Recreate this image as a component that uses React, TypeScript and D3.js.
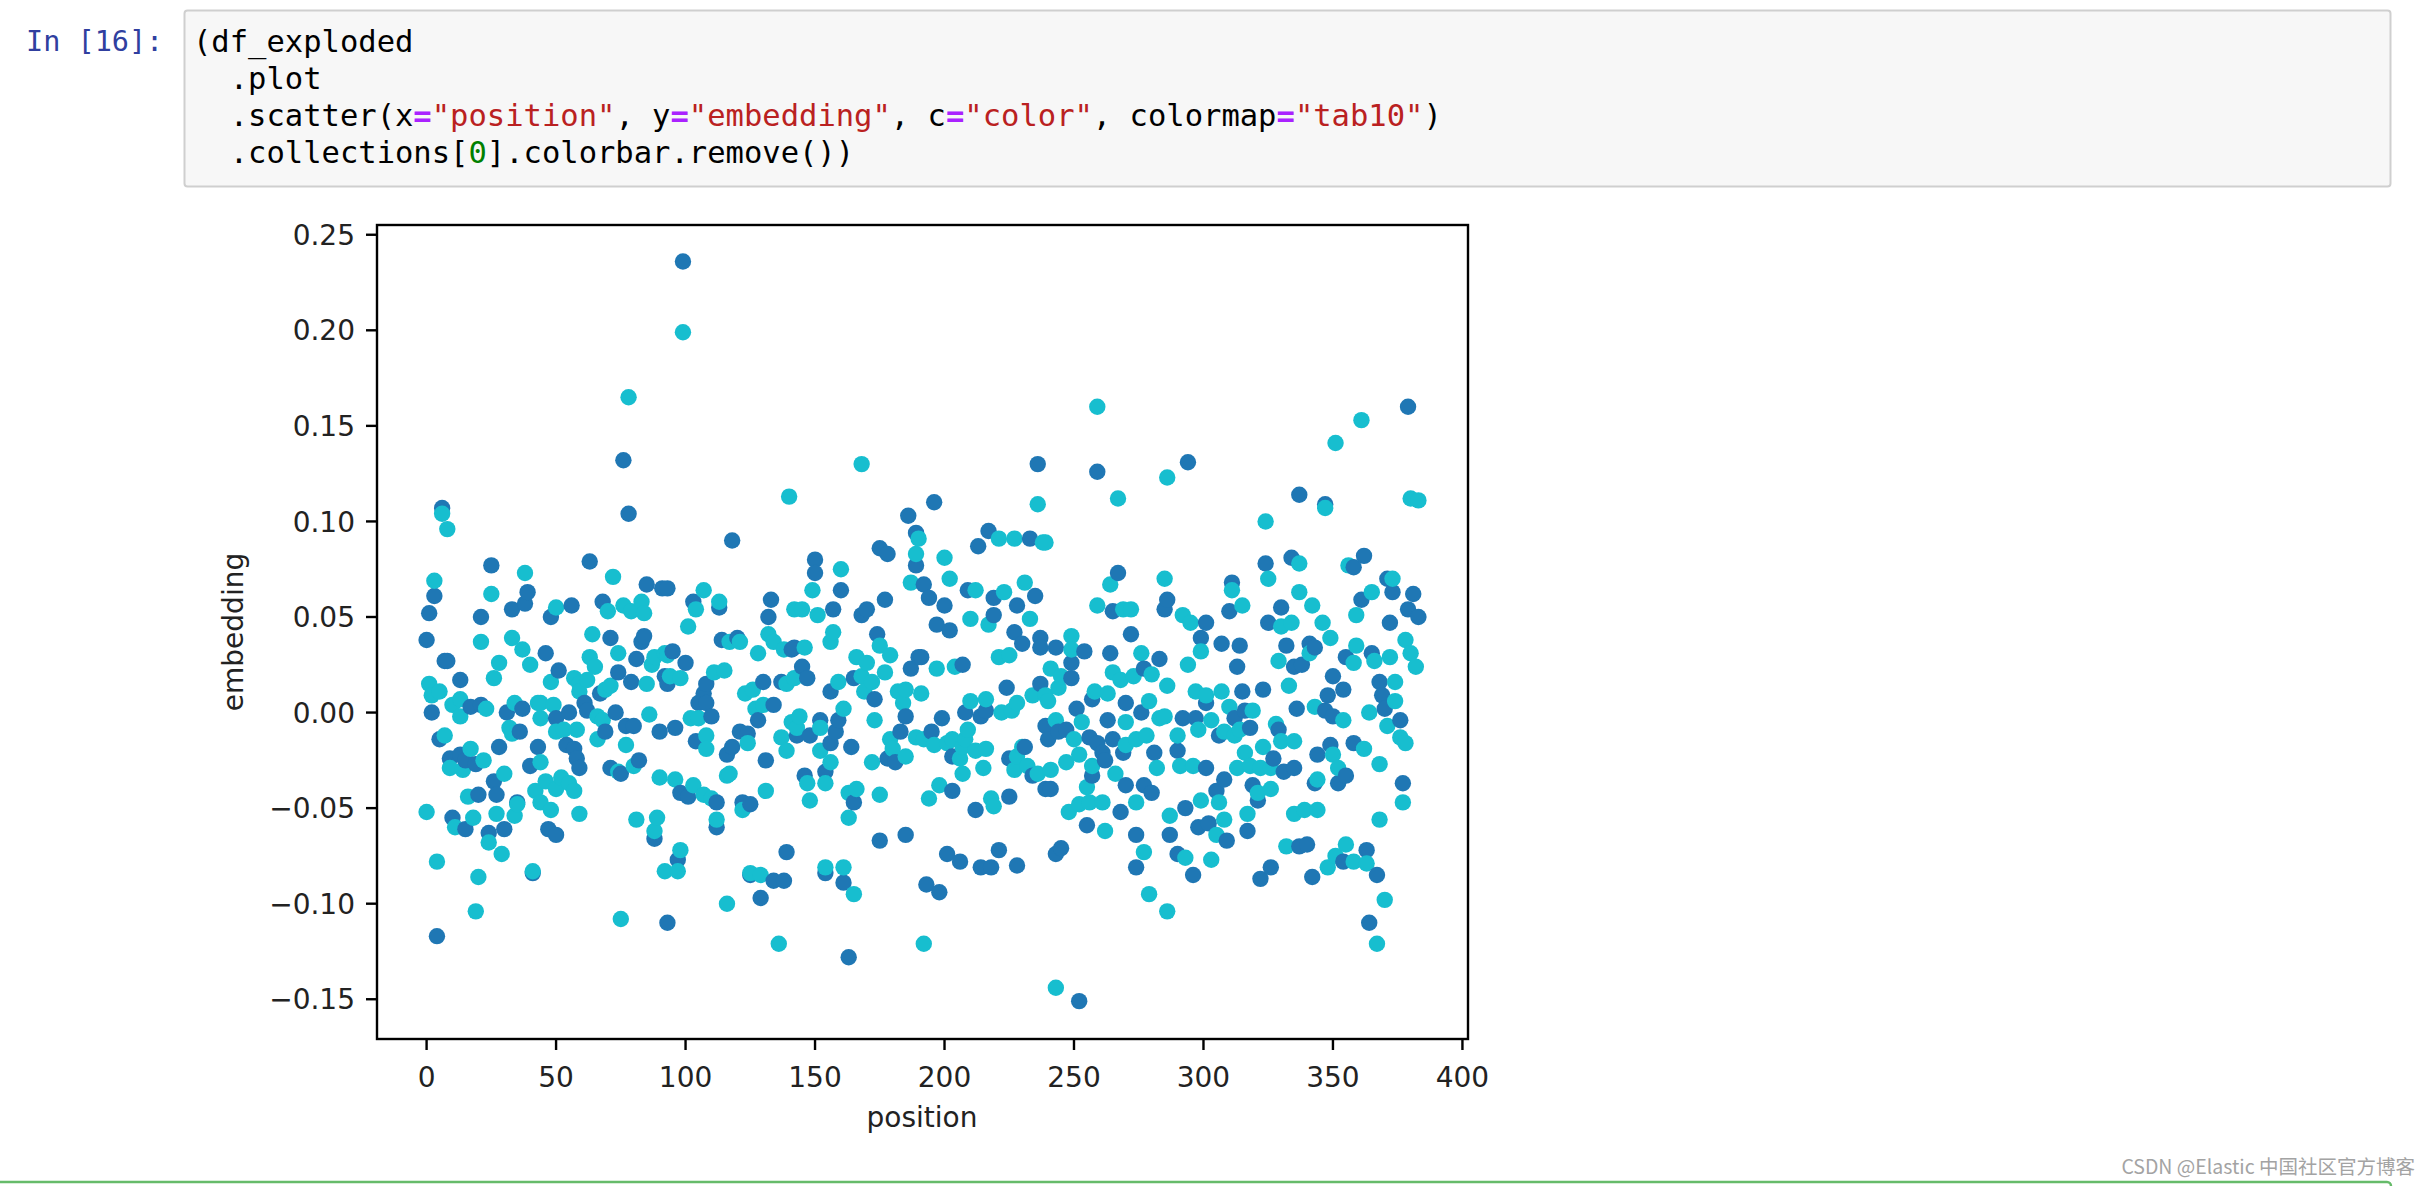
import React from 'react';
import * as d3 from 'd3';

// values: [position, embedding]
const darkPoints: [number, number][] = [
  [0,0.038],[1,0.052],[3,0.061],[4,-0.117],[6,0.107],[7,0.027],[8,0.027],[2,0.0],[5,-0.014],[13,0.017],[17,0.003],[21,0.004],[21,0.050],[25,0.077],[31,0.0],[33,0.054],[37,0.002],[38,0.057],[39,0.063],[36,-0.010],[28,-0.018],[9,-0.024],[13,-0.022],[15,-0.025],[19,-0.027],[40,-0.028],[26,-0.036],[27,-0.043],[20,-0.043],[35,-0.047],[10,-0.055],[15,-0.061],[24,-0.063],[30,-0.061],[41,-0.084],
  [76,0.132],[78,0.104],[63,0.079],[85,0.067],[91,0.065],[56,0.056],[48,0.050],[68,0.058],[71,0.039],[84,0.040],[83,0.037],[46,0.031],[81,0.028],[51,0.022],[74,0.021],[79,0.016],[92,0.019],[67,0.010],[61,0.005],[62,0.001],[55,0.0],[73,0.0],[50,-0.003],[77,-0.007],[80,-0.007],[69,-0.010],[90,-0.010],[54,-0.017],[57,-0.019],[43,-0.018],[58,-0.024],[59,-0.029],[71,-0.029],[75,-0.032],[82,-0.025],[88,-0.066],[47,-0.061],[50,-0.064],[93,-0.110],
  [99,0.236],[118,0.090],[93,0.065],[103,0.058],[113,0.055],[133,0.059],[132,0.050],[114,0.038],[120,0.039],[141,0.033],[95,0.032],[100,0.026],[108,0.015],[93,0.015],[130,0.016],[137,0.016],[107,0.010],[105,0.005],[108,0.005],[134,0.004],[110,-0.002],[96,-0.008],[128,-0.004],[121,-0.010],[124,-0.011],[104,-0.015],[118,-0.018],[116,-0.022],[131,-0.025],[98,-0.042],[101,-0.044],[112,-0.047],[122,-0.047],[125,-0.048],[112,-0.060],[97,-0.077],[139,-0.073],[125,-0.085],[134,-0.088],[138,-0.088],[129,-0.097],
  [186,0.103],[189,0.094],[175,0.086],[178,0.083],[189,0.077],[150,0.080],[150,0.073],[160,0.064],[157,0.054],[168,0.051],[170,0.054],[177,0.059],[174,0.041],[142,0.034],[190,0.029],[187,0.023],[145,0.024],[147,0.018],[165,0.018],[173,0.007],[156,0.011],[185,-0.002],[152,-0.004],[159,-0.004],[158,-0.010],[143,-0.012],[148,-0.012],[183,-0.010],[156,-0.016],[164,-0.018],[178,-0.024],[181,-0.026],[154,-0.031],[146,-0.033],[165,-0.047],[175,-0.067],[185,-0.064],[154,-0.084],[161,-0.089],[163,-0.128],
  [236,0.130],[196,0.110],[217,0.095],[213,0.087],[233,0.091],[192,0.067],[194,0.060],[200,0.056],[209,0.064],[219,0.060],[235,0.061],[228,0.056],[219,0.051],[197,0.046],[202,0.043],[227,0.042],[230,0.036],[237,0.039],[237,0.034],[191,0.029],[207,0.025],[224,0.013],[237,0.015],[208,0.0],[214,-0.002],[216,0.001],[199,-0.003],[195,-0.010],[231,-0.018],[239,-0.007],[225,-0.024],[203,-0.023],[234,-0.033],[203,-0.041],[212,-0.051],[225,-0.044],[239,-0.040],[201,-0.074],[206,-0.078],[214,-0.081],[218,-0.081],[221,-0.072],[228,-0.080],[193,-0.090],[198,-0.094],
  [259,0.126],[267,0.073],[265,0.053],[286,0.059],[285,0.054],[272,0.041],[243,0.034],[254,0.032],[264,0.031],[283,0.028],[249,0.026],[249,0.018],[277,0.023],[257,0.007],[270,0.005],[251,0.002],[276,0.0],[263,-0.004],[247,-0.009],[240,-0.014],[244,-0.010],[256,-0.013],[259,-0.016],[265,-0.014],[261,-0.021],[269,-0.021],[262,-0.025],[281,-0.021],[257,-0.033],[241,-0.040],[270,-0.038],[277,-0.038],[280,-0.042],[268,-0.052],[255,-0.059],[274,-0.064],[287,-0.064],[245,-0.071],[243,-0.074],[274,-0.081],[252,-0.151],
  [294,0.131],[337,0.114],[324,0.078],[334,0.081],[311,0.068],[310,0.053],[330,0.055],[301,0.047],[325,0.047],[299,0.039],[307,0.036],[314,0.035],[332,0.035],[335,0.024],[338,0.025],[313,0.024],[315,0.011],[323,0.012],[301,0.005],[336,0.002],[292,-0.003],[297,-0.003],[312,-0.003],[316,0.001],[318,-0.008],[306,-0.012],[329,-0.009],[290,-0.020],[327,-0.024],[301,-0.029],[335,-0.029],[331,-0.031],[308,-0.035],[319,-0.038],[305,-0.041],[321,-0.046],[293,-0.050],[298,-0.060],[302,-0.058],[317,-0.062],[309,-0.067],[337,-0.070],[290,-0.074],[296,-0.085],[326,-0.081],[322,-0.087],
  [379,0.160],[347,0.109],[362,0.082],[358,0.076],[371,0.070],[373,0.063],[361,0.059],[381,0.062],[379,0.054],[383,0.050],[372,0.047],[341,0.036],[343,0.034],[355,0.029],[365,0.031],[350,0.019],[354,0.012],[368,0.016],[348,0.009],[369,0.009],[347,0.001],[350,-0.002],[370,0.002],[376,-0.004],[358,-0.016],[349,-0.017],[344,-0.022],[355,-0.033],[352,-0.037],[343,-0.037],[377,-0.037],[340,-0.069],[354,-0.078],[363,-0.072],[367,-0.085],[342,-0.086],[364,-0.110],
];

const cyanPoints: [number, number][] = [
  [0,-0.052],[1,0.015],[3,0.069],[4,-0.078],[5,0.011],[2,0.009],[6,0.104],[8,0.096],[7,-0.012],[10,0.004],[13,0.007],[13,-0.002],[21,0.037],[23,0.002],[25,0.062],[26,0.018],[28,0.026],[33,0.039],[34,0.005],[32,-0.008],[33,-0.011],[37,0.033],[38,0.073],[40,0.025],[43,0.005],[17,-0.019],[22,-0.025],[9,-0.029],[14,-0.030],[30,-0.032],[42,-0.041],[16,-0.044],[35,-0.048],[34,-0.054],[18,-0.055],[27,-0.053],[11,-0.060],[24,-0.068],[29,-0.074],[20,-0.086],[41,-0.083],[19,-0.104],
  [78,0.165],[72,0.071],[76,0.056],[83,0.058],[84,0.052],[79,0.053],[50,0.055],[70,0.053],[64,0.041],[74,0.031],[63,0.029],[65,0.024],[88,0.029],[92,0.031],[87,0.025],[48,0.016],[57,0.018],[59,0.015],[62,0.017],[85,0.015],[69,0.012],[71,0.014],[59,0.011],[44,0.005],[49,0.004],[66,-0.002],[68,-0.004],[86,-0.001],[44,-0.003],[50,-0.010],[53,-0.009],[58,-0.009],[66,-0.014],[77,-0.017],[44,-0.026],[74,-0.031],[80,-0.028],[52,-0.034],[55,-0.037],[50,-0.040],[57,-0.041],[46,-0.036],[90,-0.034],[44,-0.047],[48,-0.051],[59,-0.053],[81,-0.056],[89,-0.055],[88,-0.062],[92,-0.083],[75,-0.108],
  [99,0.199],[140,0.113],[107,0.064],[104,0.054],[113,0.058],[101,0.045],[142,0.054],[117,0.037],[121,0.037],[128,0.031],[132,0.041],[134,0.037],[138,0.033],[93,0.030],[111,0.021],[115,0.022],[98,0.018],[94,0.019],[123,0.010],[126,0.012],[139,0.015],[127,0.002],[130,0.004],[102,-0.003],[105,-0.003],[141,-0.005],[108,-0.012],[108,-0.019],[124,-0.016],[137,-0.013],[139,-0.020],[117,-0.032],[116,-0.033],[96,-0.035],[103,-0.038],[107,-0.043],[110,-0.045],[131,-0.041],[122,-0.051],[112,-0.056],[98,-0.072],[97,-0.083],[125,-0.084],[129,-0.085],[116,-0.100],[136,-0.121],
  [168,0.130],[190,0.091],[189,0.083],[187,0.068],[149,0.064],[160,0.075],[145,0.054],[151,0.051],[157,0.042],[156,0.037],[175,0.035],[146,0.034],[166,0.029],[170,0.026],[179,0.030],[177,0.021],[168,0.019],[172,0.016],[169,0.011],[159,0.016],[142,0.018],[182,0.011],[185,0.012],[184,0.005],[144,-0.002],[143,-0.008],[152,-0.008],[161,0.002],[173,-0.004],[189,-0.013],[152,-0.020],[156,-0.026],[179,-0.014],[180,-0.019],[185,-0.023],[172,-0.026],[147,-0.037],[154,-0.037],[148,-0.046],[166,-0.040],[163,-0.042],[175,-0.043],[163,-0.055],[154,-0.081],[161,-0.081],[165,-0.095],[192,-0.121],
  [236,0.109],[221,0.091],[227,0.091],[238,0.089],[200,0.081],[202,0.070],[212,0.064],[223,0.063],[231,0.068],[217,0.046],[210,0.049],[233,0.049],[197,0.023],[204,0.024],[221,0.029],[225,0.030],[191,0.010],[234,0.009],[239,0.009],[210,0.006],[216,0.007],[222,0.0],[226,0.001],[228,0.005],[209,-0.009],[192,-0.014],[196,-0.017],[201,-0.016],[203,-0.014],[208,-0.014],[212,-0.020],[216,-0.019],[207,-0.018],[228,-0.023],[230,-0.018],[227,-0.030],[232,-0.028],[206,-0.024],[207,-0.032],[236,-0.032],[215,-0.029],[198,-0.038],[194,-0.045],[218,-0.045],[219,-0.049],
  [259,0.160],[267,0.112],[286,0.123],[239,0.089],[264,0.067],[285,0.070],[259,0.056],[269,0.054],[272,0.054],[249,0.040],[249,0.033],[276,0.031],[241,0.023],[245,0.019],[265,0.021],[268,0.017],[273,0.019],[280,0.020],[286,0.014],[244,0.013],[258,0.011],[263,0.010],[240,0.006],[279,0.006],[283,-0.003],[285,-0.002],[243,-0.004],[270,-0.005],[253,-0.005],[250,-0.014],[270,-0.017],[274,-0.014],[278,-0.012],[252,-0.022],[282,-0.029],[247,-0.026],[241,-0.030],[257,-0.028],[266,-0.032],[255,-0.039],[256,-0.047],[261,-0.047],[274,-0.047],[248,-0.052],[252,-0.048],[262,-0.062],[287,-0.054],[277,-0.073],[279,-0.095],[286,-0.104],[243,-0.144],
  [324,0.100],[325,0.070],[337,0.078],[337,0.063],[311,0.064],[315,0.056],[292,0.051],[295,0.047],[330,0.045],[334,0.047],[299,0.032],[329,0.027],[294,0.025],[333,0.014],[297,0.011],[301,0.009],[307,0.011],[310,0.003],[319,0.001],[303,-0.004],[328,-0.006],[298,-0.009],[290,-0.012],[308,-0.010],[312,-0.012],[314,-0.009],[330,-0.015],[335,-0.015],[323,-0.018],[316,-0.021],[291,-0.028],[296,-0.028],[313,-0.029],[318,-0.028],[322,-0.029],[326,-0.029],[326,-0.040],[321,-0.042],[299,-0.046],[306,-0.047],[317,-0.053],[308,-0.056],[335,-0.053],[305,-0.064],[332,-0.070],[293,-0.076],[303,-0.077],
  [361,0.153],[351,0.141],[347,0.107],[380,0.112],[383,0.111],[356,0.077],[373,0.070],[365,0.063],[359,0.051],[342,0.056],[346,0.047],[349,0.039],[378,0.038],[380,0.031],[382,0.024],[341,0.031],[359,0.035],[358,0.026],[366,0.027],[372,0.029],[374,0.016],[374,0.006],[343,0.003],[354,-0.004],[364,0.0],[371,-0.007],[376,-0.013],[378,-0.016],[368,-0.027],[362,-0.019],[350,-0.022],[352,-0.029],[344,-0.035],[377,-0.047],[339,-0.051],[344,-0.051],[368,-0.056],[355,-0.069],[351,-0.075],[358,-0.078],[363,-0.079],[348,-0.081],[370,-0.098],[367,-0.121],
];

const xTicks = [0, 50, 100, 150, 200, 250, 300, 350, 400];
const yTicks = [-0.15, -0.1, -0.05, 0, 0.05, 0.1, 0.15, 0.2, 0.25];

// notebook cell text: [text, colour] runs per line
const codeLines: [string, string][][] = [
  [['(df_exploded', '#000']],
  [['  .plot', '#000']],
  [['  .scatter(x', '#000'], ['=', '#aa22ff'], ['"position"', '#ba2121'], [', y', '#000'], ['=', '#aa22ff'], ['"embedding"', '#ba2121'], [', c', '#000'], ['=', '#aa22ff'], ['"color"', '#ba2121'], [', colormap', '#000'], ['=', '#aa22ff'], ['"tab10"', '#ba2121'], [')', '#000']],
  [['  .collections[', '#000'], ['0', '#008000'], ['].colorbar.remove())', '#000']],
];

const DARK = '#1f77b4';
const CYAN = '#17becf';

const App: React.FC = () => {
  const x = d3.scaleLinear().domain([-19.15, 402.15]).range([377, 1468]);
  const y = d3.scaleLinear().domain([-0.1708, 0.2551]).range([1039, 225]);
  const fmt = d3.format('.2f');

  const pts = [
    ...darkPoints.map(d => ({ p: d[0], v: d[1], c: DARK })),
    ...cyanPoints.map(d => ({ p: d[0], v: d[1], c: CYAN })),
  ].sort((a, b) => a.p - b.p);

  const axisFont = "'DejaVu Sans', sans-serif";
  const mono = "'DejaVu Sans Mono', 'Liberation Mono', monospace";

  return (
    <div style={{ position: 'absolute', left: 0, top: 0 }}>
      <svg width={2430} height={1186} style={{ display: 'block', background: '#fff' }}>
        {/* code cell */}
        <text x={26} y={51} fontFamily={mono} fontSize={28.5} fill="#303f9f">In [16]:</text>
        <rect x={184.5} y={10.5} width={2206} height={176} rx={3} fill="#f7f7f7" stroke="#cfcfcf" strokeWidth={2} />
        {codeLines.map((line, i) => (
          <text key={i} x={193} y={52 + i * 37} fontFamily={mono} fontSize={30.5} style={{ whiteSpace: 'pre' }}>
            {line.map((run, j) => (
              <tspan key={j} fill={run[1]} fontWeight={run[1] === '#aa22ff' ? 'bold' : 'normal'}>{run[0]}</tspan>
            ))}
          </text>
        ))}

        {/* points */}
        <g>
          {pts.map((d, i) => (
            <circle key={i} cx={x(d.p)} cy={y(d.v)} r={8.2} fill={d.c} />
          ))}
        </g>

        {/* spines */}
        <rect x={377} y={225} width={1091} height={814} fill="none" stroke="#000" strokeWidth={2.4} />

        {/* x axis */}
        {xTicks.map(t => (
          <g key={t}>
            <line x1={x(t)} x2={x(t)} y1={1039} y2={1050} stroke="#000" strokeWidth={2.4} />
            <text x={x(t)} y={1087} textAnchor="middle" fontFamily={axisFont} fontSize={28} fill="#222">{t}</text>
          </g>
        ))}
        <text x={922} y={1127} textAnchor="middle" fontFamily={axisFont} fontSize={28} fill="#222">position</text>

        {/* y axis */}
        {yTicks.map(t => (
          <g key={t}>
            <line x1={366} x2={377} y1={y(t)} y2={y(t)} stroke="#000" strokeWidth={2.4} />
            <text x={355} y={y(t)} dy="0.36em" textAnchor="end" fontFamily={axisFont} fontSize={28} fill="#222">{fmt(t)}</text>
          </g>
        ))}
        <text transform={`translate(243,${(225 + 1039) / 2}) rotate(-90)`} textAnchor="middle" fontFamily={axisFont} fontSize={28} fill="#222">embedding</text>

        {/* watermark and next cell border */}
        <text x={2415} y={1174} textAnchor="end" fontFamily="'Noto Sans CJK SC', 'Noto Sans', sans-serif" fontSize={19.5} fill="#a3a3a3">CSDN @Elastic 中国社区官方博客</text>
        <rect x={-4} y={1182} width={2395} height={40} rx={4} fill="none" stroke="#66bb6a" strokeWidth={2.5} />
      </svg>
    </div>
  );
};

export default App;
